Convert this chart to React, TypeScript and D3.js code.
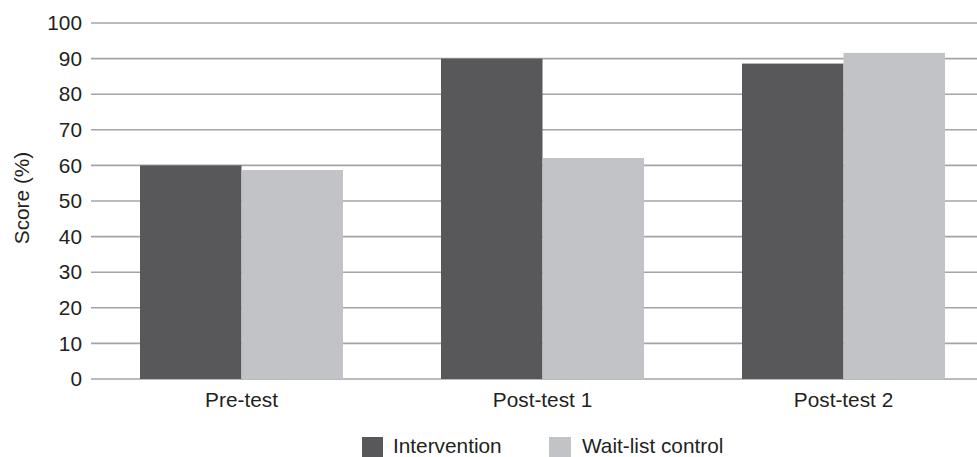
import React from "react";
import * as d3 from "d3";

const categories = ["Pre-test", "Post-test 1", "Post-test 2"];
const seriesNames = ["Intervention", "Wait-list control"];
const intervention = [60, 90, 88.6];
const waitList = [58.7, 62.1, 91.6];
const yTicks = [0, 10, 20, 30, 40, 50, 60, 70, 80, 90, 100];

const colors = ["#58585a", "#c2c3c6"];

const W = 977;
const H = 457;
const FONT = "'Liberation Sans', Arial, Helvetica, sans-serif";
const FS = 20.8;

export default function App() {
  const values = [intervention, waitList];

  const y = d3.scaleLinear().domain([0, 100]).range([379, 23]);
  const x0 = d3
    .scaleBand<string>()
    .domain(categories)
    .range([91, 994])
    .paddingInner(98 / 301)
    .paddingOuter(49 / 301);
  const x1 = d3
    .scaleBand<string>()
    .domain(seriesNames)
    .range([0, x0.bandwidth()]);

  return (
    <svg
      width={W}
      height={H}
      style={{ position: "absolute", left: 0, top: 0, display: "block", background: "#fff" }}
      fontFamily={FONT}
    >
      {/* gridlines */}
      {yTicks.map((t) => (
        <line
          key={`g${t}`}
          x1={91}
          x2={W}
          y1={y(t)}
          y2={y(t)}
          stroke="#a4a4a4"
          strokeWidth={1.6}
        />
      ))}

      {/* bars */}
      {categories.map((c, i) => (
        <g key={c} transform={`translate(${x0(c)},0)`}>
          {seriesNames.map((s, j) => (
            <rect
              key={s}
              x={x1(s)}
              y={y(values[j][i])}
              width={x1.bandwidth()}
              height={y(0) - y(values[j][i])}
              fill={colors[j]}
            />
          ))}
        </g>
      ))}

      {/* y tick labels */}
      {yTicks.map((t) => (
        <text
          key={`t${t}`}
          x={82}
          y={y(t)}
          dy="0.35em"
          textAnchor="end"
          fontSize={FS}
          fill="#231f20"
        >
          {t}
        </text>
      ))}

      {/* y axis title */}
      <text
        transform={`translate(29,${(y(0) + y(100)) / 2 - 3}) rotate(-90)`}
        textAnchor="middle"
        fontSize={FS}
        fill="#231f20"
      >
        Score (%)
      </text>

      {/* category labels */}
      {categories.map((c) => (
        <text
          key={`c${c}`}
          x={(x0(c) as number) + x0.bandwidth() / 2}
          y={407}
          textAnchor="middle"
          fontSize={FS}
          fill="#231f20"
        >
          {c}
        </text>
      ))}

      {/* legend */}
      <g>
        <rect x={362} y={437} width={21} height={21} fill={colors[0]} />
        <text x={393} y={453} fontSize={FS} fill="#231f20">
          {seriesNames[0]}
        </text>
        <rect x={549} y={437} width={22} height={21} fill={colors[1]} />
        <text x={582} y={453} fontSize={FS} fill="#231f20">
          {seriesNames[1]}
        </text>
      </g>
    </svg>
  );
}
